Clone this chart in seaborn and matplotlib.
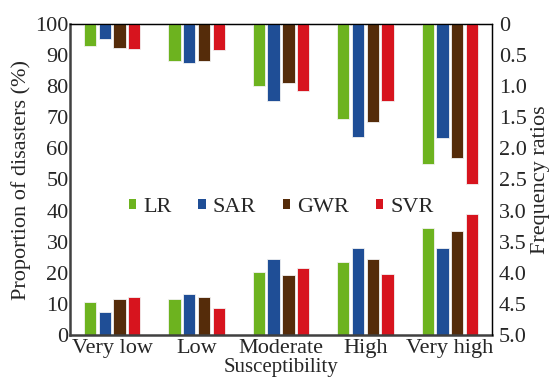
import matplotlib
matplotlib.use("Agg")
import matplotlib.pyplot as plt
import seaborn as sns
import pandas as pd
from matplotlib.patches import Patch

categories = ["Very low", "Low", "Moderate", "High", "Very high"]
models = ["LR", "SAR", "GWR", "SVR"]
colors = ["#6DB31F", "#1F4E96", "#552C0A", "#D7141E"]

# Proportion of disasters (%)
prop_LR = [10.7, 11.5, 20.2, 23.6, 34.3]
prop_SAR = [7.5, 13.1, 24.3, 28.0, 28.0]
prop_GWR = [11.5, 12.3, 19.4, 24.3, 33.3]
prop_SVR = [12.3, 8.6, 21.6, 19.5, 38.9]

# Frequency ratios
fr_LR = [0.36, 0.59, 1.00, 1.53, 2.25]
fr_SAR = [0.24, 0.62, 1.24, 1.81, 1.84]
fr_GWR = [0.38, 0.60, 0.95, 1.58, 2.15]
fr_SVR = [0.40, 0.42, 1.07, 1.23, 2.58]

left_ticks = [0, 10, 20, 30, 40, 50, 60, 70, 80, 90, 100]
right_ticks = [0, 0.5, 1.0, 1.5, 2.0, 2.5, 3.0, 3.5, 4.0, 4.5, 5.0]
right_labels = ["0", "0.5", "1.0", "1.5", "2.0", "2.5", "3.0", "3.5", "4.0", "4.5", "5.0"]

prop = {"LR": prop_LR, "SAR": prop_SAR, "GWR": prop_GWR, "SVR": prop_SVR}
fr = {"LR": fr_LR, "SAR": fr_SAR, "GWR": fr_GWR, "SVR": fr_SVR}
rows_p, rows_f = [], []
for m in models:
    for c, v in zip(categories, prop[m]):
        rows_p.append({"Susceptibility": c, "Model": m, "value": v})
    for c, v in zip(categories, fr[m]):
        rows_f.append({"Susceptibility": c, "Model": m, "value": v})
df_p = pd.DataFrame(rows_p)
df_f = pd.DataFrame(rows_f)

FS = 16
sns.set_style("white")
plt.rcParams["font.family"] = ["Liberation Serif", "DejaVu Serif"]
plt.rcParams["font.size"] = FS

fig = plt.figure(figsize=(5.56, 3.81), dpi=100)
ax = fig.add_axes([70 / 556, 1 - 335 / 381, 422 / 556, 311 / 381])

palette = dict(zip(models, colors))
sns.barplot(data=df_p, x="Susceptibility", y="value", hue="Model", order=categories,
            hue_order=models, palette=palette, width=0.7, gap=0.17, ax=ax,
            legend=False, edgecolor="#f2f2f2", linewidth=0.6, saturation=1)
ax.set_ylim(0, 100)
ax.set_yticks(left_ticks)
ax.set_ylabel("Proportion of disasters (%)", fontsize=FS, labelpad=3)
ax.set_xlabel("Susceptibility", fontsize=15, labelpad=0)
ax.tick_params(axis="both", length=0, labelsize=FS)
ax.tick_params(axis="y", pad=1)
ax.tick_params(axis="x", pad=3)

ax2 = ax.twinx()
sns.barplot(data=df_f, x="Susceptibility", y="value", hue="Model", order=categories,
            hue_order=models, palette=palette, width=0.7, gap=0.17, ax=ax2,
            legend=False, edgecolor="#f2f2f2", linewidth=0.6, saturation=1)
ax2.set_ylim(5, 0)
ax2.set_yticks(right_ticks)
ax2.set_yticklabels(right_labels)
ax2.set_ylabel("Frequency ratios", fontsize=FS, labelpad=3)
ax2.tick_params(axis="y", length=0, labelsize=FS, pad=5)
ax.set_xlim(-0.5, 4.5)

for a in (ax, ax2):
    for s in a.spines.values():
        s.set_visible(True)
        s.set_color("black")
        s.set_linewidth(0.9)
ax.spines["left"].set_color("#404040")
ax.spines["left"].set_linewidth(1.8)
ax.spines["bottom"].set_color("#404040")
ax.spines["bottom"].set_linewidth(1.8)
ax2.spines["left"].set_visible(False)
ax2.spines["bottom"].set_visible(False)

handles = [Patch(facecolor=c, edgecolor="none") for c in colors]
ax.legend(handles, models, loc="center", bbox_to_anchor=(0.5, 0.41), ncol=4,
          frameon=False, handlelength=0.35, handleheight=0.35, handletextpad=0.3,
          columnspacing=1.2, fontsize=FS)

fig.savefig("out.png", dpi=100)
